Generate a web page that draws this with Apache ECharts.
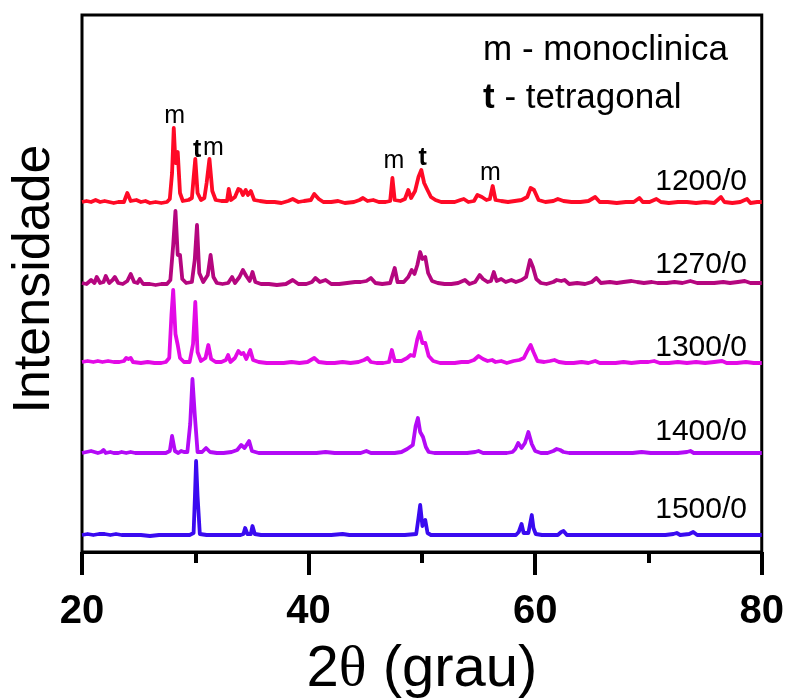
<!DOCTYPE html>
<html><head><meta charset="utf-8">
<script src="https://cdn.jsdelivr.net/npm/echarts@6/dist/echarts.min.js"></script>
<style>html,body{margin:0;padding:0;background:#fff}#c{width:787px;height:700px}</style>
</head><body><div id="c"></div>
<script>
// 2θ (deg), intensity above each pattern's own baseline (arbitrary units)
const s1200 = [[20,1],[20.4,2],[20.8,1],[21.2,3],[21.6,1],[22,2],[22.4,1],[22.8,0],[23.2,1],[23.7,1],[24.0,10],[24.3,2],[24.8,3],[25.2,1],[25.6,2],[26,0],[26.5,1],[27,0],[27.5,1],[27.75,4],[27.95,30],[28.1,75],[28.25,40],[28.45,51],[28.65,10],[28.9,2],[29.4,3],[29.7,5],[29.85,25],[30.0,44],[30.2,10],[30.5,3],[30.8,5],[31.0,20],[31.25,44],[31.5,12],[31.8,3],[32.3,2],[32.8,2],[32.95,14],[33.15,3],[33.5,6],[33.8,14],[34.0,13],[34.2,8],[34.45,13],[34.65,8],[34.9,12],[35.2,3],[35.7,2],[36.3,1],[37,1],[37.6,0],[38.2,2],[38.6,4],[39.1,1],[39.6,2],[40.2,3],[40.5,9],[40.9,4],[41.3,1],[42,1],[42.6,2],[43.2,0],[44,1],[44.5,3],[44.8,5],[45.2,2],[45.7,3],[46.2,1],[46.8,1],[47.2,2],[47.4,25],[47.6,3],[48.1,2],[48.5,4],[48.8,13],[49.05,5],[49.4,12],[49.7,26],[49.95,33],[50.2,20],[50.45,14],[50.8,6],[51.2,3],[51.7,1],[52.3,1],[52.9,1],[53.4,3],[53.7,4],[54.1,1],[54.6,2],[54.9,8],[55.3,6],[55.7,3],[56.0,4],[56.25,17],[56.5,3],[57.0,2],[57.6,1],[58.2,2],[58.8,3],[59.3,6],[59.6,15],[59.9,13],[60.3,3],[60.9,1],[61.6,2],[62.0,4],[62.5,2],[63.2,1],[64,1],[64.7,2],[65.3,6],[65.7,1],[66.4,1],[67.2,0],[68.0,1],[68.7,1],[69.2,5],[69.5,1],[70.1,1],[70.7,4],[71.1,1],[71.8,0],[72.6,1],[73.4,1],[74.2,0],[75.0,1],[75.8,0],[76.4,6],[76.7,1],[77.4,0],[78.1,1],[78.7,4],[79.0,0],[79.6,1],[80,1]];
const s1270 = [[20,2],[20.4,1],[20.8,5],[21.1,2],[21.3,8],[21.6,2],[21.9,3],[22.1,9],[22.4,2],[22.7,5],[22.9,8],[23.2,2],[23.6,1],[24.0,4],[24.3,11],[24.6,3],[24.9,2],[25.1,6],[25.4,1],[26,1],[26.5,0],[27,1],[27.5,1],[27.8,5],[28.05,40],[28.25,74],[28.45,30],[28.65,30],[28.85,6],[29.2,2],[29.7,3],[29.95,25],[30.15,60],[30.35,12],[30.7,3],[31.1,10],[31.35,30],[31.6,8],[31.9,2],[32.4,1],[32.9,2],[33.25,8],[33.5,2],[33.9,8],[34.2,15],[34.5,9],[34.8,4],[35.05,13],[35.3,3],[35.8,1],[36.5,1],[37.2,0],[38,1],[38.6,5],[39.1,1],[39.8,1],[40.3,3],[40.6,7],[41.0,3],[41.5,5],[42,1],[42.7,1],[43.4,2],[44.1,3],[44.6,3],[45.1,4],[45.5,7],[45.9,2],[46.5,1],[47.2,2],[47.6,17],[47.85,3],[48.4,3],[48.8,8],[49.1,15],[49.35,11],[49.6,20],[49.85,33],[50.05,26],[50.3,28],[50.55,12],[50.9,4],[51.4,2],[52.0,1],[52.6,1],[53.2,2],[53.8,5],[54.2,1],[54.7,3],[55.1,10],[55.4,6],[55.8,3],[56.1,4],[56.35,13],[56.6,4],[57.0,6],[57.4,3],[57.9,5],[58.3,3],[58.8,5],[59.2,8],[59.55,25],[59.8,18],[60.1,6],[60.5,2],[61.0,1],[61.6,3],[61.9,5],[62.3,4],[62.6,5],[63.0,1],[63.7,2],[64.4,1],[65.0,3],[65.4,7],[65.8,2],[66.6,3],[67.2,2],[67.8,3],[68.5,4],[69.0,3],[69.6,2],[70.3,3],[70.8,2],[71.6,2],[72.3,3],[73.0,2],[73.7,4],[74.3,2],[75.0,2],[75.8,2],[76.6,3],[77.2,2],[77.9,3],[78.5,4],[79.0,2],[79.6,2],[80,2]];
const s1300 = [[20,2],[20.5,3],[21,2],[21.4,3],[21.8,2],[22.3,3],[22.8,2],[23.3,2],[23.7,3],[23.9,6],[24.1,5],[24.3,6],[24.5,2],[25.2,1],[25.8,2],[26.4,1],[27,1],[27.4,2],[27.7,6],[27.9,50],[28.05,74],[28.25,30],[28.45,19],[28.65,6],[29.0,2],[29.5,2],[29.8,20],[30.0,62],[30.2,12],[30.5,3],[30.9,6],[31.15,19],[31.4,5],[31.8,2],[32.3,2],[32.7,4],[32.9,9],[33.1,2],[33.5,6],[33.8,13],[34.05,10],[34.25,11],[34.5,5],[34.85,14],[35.1,4],[35.6,2],[36.3,1],[37,1],[37.8,1],[38.5,2],[39.2,1],[39.9,2],[40.2,4],[40.5,6],[40.9,2],[41.6,1],[42.3,1],[43.0,2],[43.7,1],[44.4,2],[44.9,4],[45.2,6],[45.5,2],[46,1],[46.6,1],[47.1,2],[47.35,14],[47.6,3],[48.2,3],[48.7,6],[49.0,9],[49.3,8],[49.6,25],[49.8,32],[50.05,21],[50.3,21],[50.6,8],[51.0,3],[51.6,1],[52.2,1],[52.9,1],[53.5,2],[54.1,2],[54.6,4],[55.0,8],[55.4,5],[55.8,3],[56.2,4],[56.5,2],[57.0,3],[57.5,1],[58.1,3],[58.6,4],[59.0,6],[59.35,14],[59.6,19],[59.85,12],[60.2,3],[60.8,2],[61.3,3],[61.7,4],[62.1,2],[62.7,1],[63.4,1],[64.1,2],[64.7,1],[65.3,3],[65.7,1],[66.4,1],[67.1,1],[67.8,2],[68.5,1],[69.3,2],[70.0,2],[70.5,3],[71.0,1],[71.8,1],[72.6,2],[73.4,1],[74.2,2],[75.0,1],[75.8,2],[76.5,3],[76.9,1],[77.8,1],[78.6,2],[79.3,1],[80,1]];
const s1400 = [[20,1],[20.4,2],[20.8,3],[21.1,2],[21.4,1],[21.7,2],[21.9,4],[22.1,1],[22.5,2],[22.8,1],[23.2,1],[23.5,2],[23.9,1],[24.3,2],[24.7,1],[25.2,1],[25.8,1],[26.4,1],[27.0,1],[27.4,1],[27.75,3],[27.95,18],[28.2,3],[28.5,1],[28.75,3],[29.0,2],[29.3,2],[29.55,30],[29.75,75],[29.95,40],[30.2,2],[30.6,2],[30.95,6],[31.3,2],[31.9,1],[32.5,1],[33.2,2],[33.7,4],[34.05,9],[34.35,6],[34.75,13],[35.0,3],[35.6,1],[36.3,1],[37.0,1],[37.8,1],[38.5,1],[39.3,1],[40.0,1],[40.7,1],[41.5,2],[42.3,1],[43.1,1],[43.9,1],[44.6,1],[45.1,3],[45.5,1],[46.2,1],[46.9,1],[47.6,1],[48.2,2],[48.7,5],[49.2,9],[49.45,28],[49.65,36],[49.85,22],[50.1,17],[50.35,7],[50.6,2],[51.1,1],[51.8,1],[52.5,1],[53.2,1],[54.0,1],[54.7,2],[55.0,3],[55.4,1],[56.1,1],[56.8,1],[57.5,1],[58.0,2],[58.25,5],[58.5,11],[58.8,6],[59.1,11],[59.4,22],[59.7,10],[60.0,3],[60.5,1],[61.1,1],[61.6,3],[61.9,5],[62.2,4],[62.5,2],[63.0,1],[63.8,1],[64.6,1],[65.4,1],[66.2,1],[67.0,1],[67.8,1],[68.6,1],[69.4,2],[70.2,1],[71.0,1],[71.8,1],[72.6,1],[73.4,2],[73.7,3],[74.0,1],[74.8,1],[75.6,1],[76.4,1],[77.2,1],[78.0,1],[78.8,1],[79.5,1],[80,1]];
const s1500 = [[20,1],[20.5,2],[21,1],[21.5,2],[22,2],[22.5,1],[23,2],[23.5,1],[24,1],[24.6,1],[25.2,1],[26,0],[26.8,1],[27.6,1],[28.2,1],[28.8,1],[29.5,1],[29.85,3],[29.97,40],[30.07,75],[30.2,40],[30.4,2],[31,1],[32,1],[33,1],[34,1],[34.25,2],[34.4,8],[34.6,2],[34.9,2],[35.05,10],[35.25,2],[35.8,1],[36.6,1],[37.5,1],[38.4,1],[39.3,1],[40.2,1],[41.1,1],[42,1],[43,2],[43.6,1],[44.5,1],[45.5,1],[46.5,1],[47.5,1],[48.5,1],[49.5,2],[49.7,18],[49.85,31],[50.05,10],[50.3,16],[50.5,3],[50.8,1],[51.5,1],[52.5,1],[53.5,1],[54.5,1],[55.5,1],[56.5,1],[57.5,1],[58.3,1],[58.55,4],[58.8,12],[58.98,3],[59.4,3],[59.55,12],[59.7,21],[59.85,8],[60.05,2],[60.6,1],[61.5,1],[62.0,1],[62.3,4],[62.5,5],[62.8,1],[63.5,1],[64.5,1],[65.5,1],[66.5,1],[67.5,1],[68.5,1],[69.5,1],[70.5,1],[71.5,1],[72.2,2],[72.5,3],[72.8,1],[73.6,2],[73.95,4],[74.3,1],[75,1],[76,1],[77,1],[78,1],[79,1],[80,1]];

const patterns = [s1200, s1270, s1300, s1400, s1500];
const sampleNames = ['1200/0', '1270/0', '1300/0', '1400/0', '1500/0'];
const offsets = [349, 267, 188, 98, 16];
const colors = ['#ff0a26', '#b5067f', '#e30ae6', '#b30af6', '#3a0af0'];

// phase annotations (text, 2θ, height in the same units as the plot)
const annotText = ['m', 't', 'm', 'm', 't', 'm'];
const annotX = [28.18, 30.16, 31.6, 47.53, 50.08, 56.06];
const annotY = [436, 402, 404, 391, 394, 379];

const xTicks = [20, 40, 60, 80];

const chart = echarts.init(document.getElementById('c'), null, {renderer: 'canvas'});
const series = patterns.map((p, i) => ({
  type: 'line', name: sampleNames[i], data: p.map(d => [d[0], d[1] + offsets[i]]),
  showSymbol: false, symbol: 'none', silent: true,
  lineStyle: {color: colors[i], width: 3.8, join: 'round'}, z: 5 - i
}));
series.push({
  type: 'scatter', symbolSize: 1, silent: true, z: 10,
  itemStyle: {opacity: 0},
  data: annotText.map((t, i) => ({value: [annotX[i], annotY[i]], name: t})),
  label: {
    show: true, position: 'inside', color: '#000', opacity: 1,
    formatter: p => p.name === 't' ? '{b|t}' : '{n|m}',
    rich: {
      n: {fontFamily: 'Liberation Sans, Arial', fontSize: 25, color: '#000'},
      b: {fontFamily: 'Liberation Sans, Arial', fontSize: 25, fontWeight: 'bold', color: '#000'}
    }
  }
});

const graphics = sampleNames.map((n, i) => ({
  type: 'text', right: 40, top: [167, 250, 333, 417, 495][i],
  style: {text: n, font: '30px "Liberation Sans", Arial', fill: '#000'}
}));
graphics.push(
  {type: 'text', left: 483, top: 33, style: {text: 'm - monoclinica', font: '35px "Liberation Sans", Arial', fill: '#000'}},
  {type: 'text', left: 483, top: 81, style: {rich: {b: {font: 'bold 35px "Liberation Sans", Arial', fill: '#000'}, n: {font: '35px "Liberation Sans", Arial', fill: '#000'}}, text: '{b|t}{n| - tetragonal}'}},
  {type: 'text', x: 35, y: 279, rotation: Math.PI / 2,
   style: {text: 'Intensidade', font: '52px "Liberation Sans", Arial', fill: '#000', align: 'center', verticalAlign: 'middle'}},
  {type: 'text', x: 422, y: 670,
   style: {text: '{a|2}{t|θ}{a| (grau)}', align: 'center', verticalAlign: 'middle',
     rich: {a: {font: '58px "Liberation Sans", Arial', fill: '#000'}, t: {font: '58px "Liberation Serif", "Times New Roman", serif', fill: '#000'}}}}
);

chart.setOption({
  animation: false,
  backgroundColor: '#fff',
  grid: {left: 82, right: 24, top: 15, bottom: 148, show: true, borderColor: '#000', borderWidth: 3, backgroundColor: 'transparent'},
  xAxis: {
    type: 'value', min: xTicks[0], max: xTicks[xTicks.length - 1], interval: 20,
    axisLine: {show: true, onZero: false, lineStyle: {color: '#000', width: 3}},
    axisTick: {show: true, length: 23, lineStyle: {color: '#000', width: 4}},
    minorTick: {show: true, splitNumber: 2, length: 11, lineStyle: {color: '#000', width: 4}},
    splitLine: {show: false},
    axisLabel: {margin: 40, fontSize: 40, lineHeight: 40, fontWeight: 'bold', color: '#000', fontFamily: 'Liberation Sans, Arial'}
  },
  yAxis: {type: 'value', min: 0, max: 537, show: false, splitLine: {show: false}},
  series: series,
  graphic: graphics
});
</script></body></html>
